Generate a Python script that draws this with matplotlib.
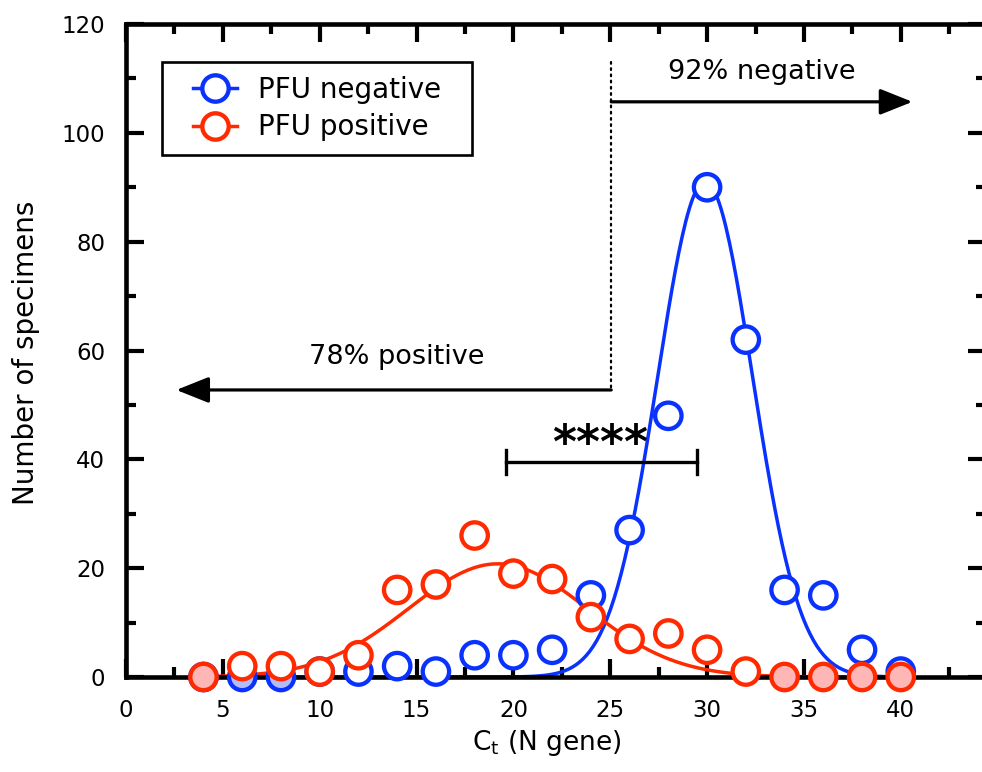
import numpy as np
import matplotlib
matplotlib.use("Agg")
import matplotlib.pyplot as plt
from matplotlib.lines import Line2D
from matplotlib.legend_handler import HandlerLine2D
from matplotlib.ticker import MultipleLocator

plt.rcParams['font.family'] = ['DejaVu Sans']

# ---- data ----
ct_values = [4, 6, 8, 10, 12, 14, 16, 18, 20, 22, 24, 26, 28, 30, 32, 34, 36, 38, 40]
pfu_negative = [0, 0, 0, 1, 1, 2, 1, 4, 4, 5, 15, 27, 48, 90, 62, 16, 15, 5, 1]
pfu_positive = [0, 2, 2, 1, 4, 16, 17, 26, 19, 18, 11, 7, 8, 5, 1, 0, 0, 0, 0]

# Gaussian fit parameters (amplitude, mean, sigma)
fit_negative = (91.0, 29.9, 2.45)
fit_positive = (20.8, 19.2, 4.6)

series_labels = ["PFU negative", "PFU positive"]
cutoff_ct = 25.05
text_negative = "92% negative"
text_positive = "78% positive"
signif = "****"
bracket_range = (19.6, 29.5)

BLUE = '#0a32ff'
RED = '#ff2a00'
BLUE_FILL = '#b3bcf7'
RED_FILL = '#ffb6b6'

fig = plt.figure(figsize=(9.82, 7.72), dpi=100)
ax = fig.add_axes([126 / 982, 95 / 772, 860 / 982, 653 / 772])
ax.set_xlim(0, 44.4)
ax.set_ylim(0, 120)

xs = np.linspace(ct_values[0], ct_values[-1], 400)


def gauss(x, p):
    a, m, s = p
    return a * np.exp(-(x - m) ** 2 / (2 * s ** 2))


ax.plot(xs, gauss(xs, fit_negative), color=BLUE, lw=2.5, zorder=2, clip_on=False)
ax.plot(xs, gauss(xs, fit_positive), color=RED, lw=2.5, zorder=2.2, clip_on=False)

ms = 19
mew = 3.1
neg_fc = [BLUE_FILL if v == 0 else 'white' for v in pfu_negative]
pos_fc = [RED_FILL if v == 0 else 'white' for v in pfu_positive]
ax.scatter(ct_values, pfu_negative, s=ms ** 2, facecolors=neg_fc, edgecolors=BLUE,
           linewidths=mew, zorder=4, clip_on=False)
ax.scatter(ct_values, pfu_positive, s=ms ** 2, facecolors=pos_fc, edgecolors=RED,
           linewidths=mew, zorder=5, clip_on=False)

# cutoff dotted line and arrows
ax.plot([cutoff_ct, cutoff_ct], [113, 52.75], color='black', lw=1.6,
        linestyle=(0, (0.8, 2.0)), dash_capstyle='round', zorder=3)
arrow_kw = dict(arrowstyle='-|>,head_length=1.0,head_width=0.4', mutation_scale=20,
                lw=2.3, color='black', shrinkA=0, shrinkB=0)
ax.annotate('', xy=(40.6, 105.7), xytext=(cutoff_ct, 105.7), arrowprops=arrow_kw)
ax.annotate('', xy=(2.6, 52.75), xytext=(cutoff_ct, 52.75), arrowprops=arrow_kw)
ax.text(32.8, 111.2, text_negative, ha='center', va='center', fontsize=19.5)
ax.text(14.0, 58.8, text_positive, ha='center', va='center', fontsize=19.5)

# significance bracket
b0, b1 = bracket_range
ax.plot([b0, b1], [39.5, 39.5], color='black', lw=2.4, zorder=3)
ax.plot([b0, b0], [37.3, 41.7], color='black', lw=2.4, zorder=3)
ax.plot([b1, b1], [37.3, 41.7], color='black', lw=2.4, zorder=3)
ax.text(24.5, 40.3, signif, ha='center', va='baseline', fontsize=33, fontweight='bold')

# axes styling
for sp in ax.spines.values():
    sp.set_linewidth(3.3)
ax.set_xticks(range(0, 41, 5))
ax.set_xticks(np.arange(0, 44.4, 2.5), minor=True)
ax.yaxis.set_major_locator(MultipleLocator(20))
ax.yaxis.set_minor_locator(MultipleLocator(10))
ax.tick_params(which='both', direction='in', top=True, right=True, width=3.0,
               labelsize=16.5)
ax.tick_params(which='major', length=13)
ax.tick_params(which='minor', length=7.5)
ax.tick_params(axis='y', pad=15)
ax.tick_params(axis='x', pad=16)

ax.set_xlabel(r'$\mathregular{C_t}$ (N gene)', fontsize=19)
ax.xaxis.set_label_coords((547 - 126) / 860, -0.078)
ax.set_ylabel('Number of specimens', fontsize=20)
ax.yaxis.set_label_coords(-0.1, 0.496)


class PaddedHandler(HandlerLine2D):
    """Line+marker legend handle drawn with some blank space before it."""
    def __init__(self, lead, **kw):
        super().__init__(**kw)
        self.lead = lead

    def create_artists(self, legend, orig_handle, xdescent, ydescent, width,
                       height, fontsize, trans):
        lead = self.lead * fontsize
        return super().create_artists(legend, orig_handle, xdescent - lead, ydescent,
                                      width - lead, height, fontsize, trans)


handles = [Line2D([], [], color=BLUE, lw=2.5, marker='o', ms=ms, mew=mew, mfc='white', mec=BLUE),
           Line2D([], [], color=RED, lw=2.5, marker='o', ms=ms, mew=mew, mfc='white', mec=RED)]
hmap = {h: PaddedHandler(0.62, numpoints=1) for h in handles}
leg = ax.legend(handles, series_labels, loc='upper left',
                bbox_to_anchor=(36 / 860, 0.942 - 0.147, 310 / 860, 0.147),
                mode='expand', borderaxespad=0, fontsize=20, frameon=True, fancybox=False,
                framealpha=1, edgecolor='black', borderpad=0.5, handlelength=2.2,
                handletextpad=0.75, labelspacing=0.35, handler_map=hmap)
leg.get_frame().set_linewidth(1.9)

fig.savefig('out.png', dpi=100)
